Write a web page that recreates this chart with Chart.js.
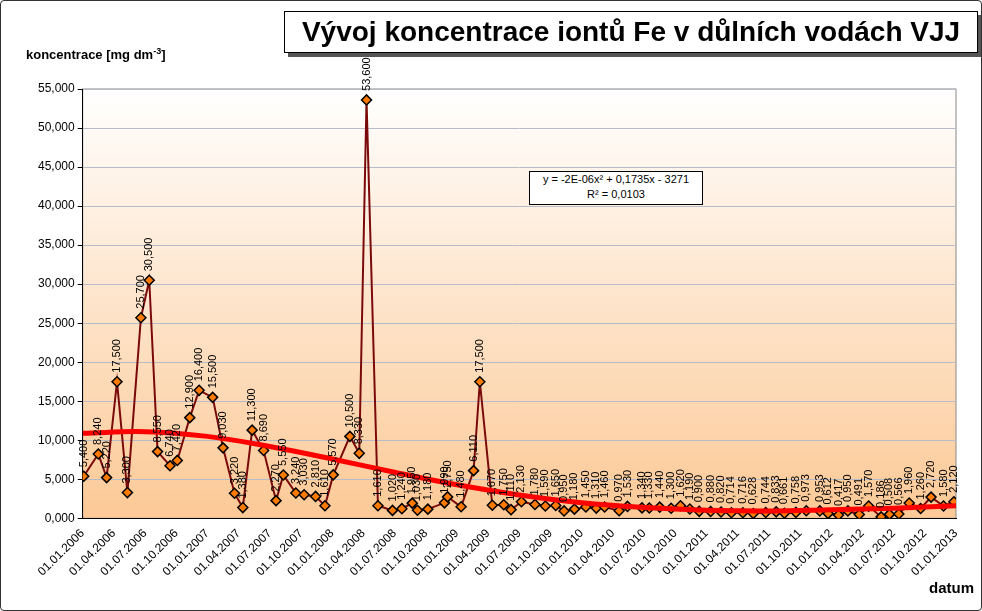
<!DOCTYPE html>
<html><head><meta charset="utf-8">
<script src="https://cdn.jsdelivr.net/npm/chart.js@4/dist/chart.umd.min.js"></script>
<style>
body{margin:0;background:#fff;font-family:Arial,"Liberation Sans",sans-serif}
#wrap{position:relative;width:980px;height:609px;border:1px solid #333;border-radius:4px;overflow:hidden}
#title{position:absolute;left:283px;top:10px;width:692px;height:40px;border:1px solid #000;box-shadow:4px 4px 0 #555;background:#fff;font:bold 28px Arial,"Liberation Sans";text-align:center;line-height:40px;white-space:nowrap}
#ytitle{position:absolute;left:25px;top:45px;font:bold 13px Arial,"Liberation Sans"}
#xtitle{position:absolute;left:928px;top:578px;font:bold 15px Arial,"Liberation Sans"}
#eq{position:absolute;left:528px;top:170px;width:172px;height:32px;border:1px solid #000;background:#fff;font:11px Arial,"Liberation Sans";text-align:center;line-height:15px}
</style></head><body>
<div id="wrap">
<canvas id="c" width="980" height="609"></canvas>
<div id="title">Vývoj koncentrace iontů Fe v důlních vodách VJJ</div>
<div id="ytitle">koncentrace [mg dm<sup style="font-size:9px">-3</sup>]</div>
<div id="eq">y = -2E-06x² + 0,1735x - 3271<br>R² = 0,0103</div>
<div id="xtitle">datum</div>
</div>
<script>
// months since 01.01.2006
const months = [0.1,1.5,2.3,3.3,4.3,5.6,6.4,7.2,8.4,9.1,10.3,11.2,12.5,13.5,14.6,15.4,16.3,17.4,18.6,19.3,20.5,21.3,22.4,23.3,24.1,25.7,26.6,27.3,
  28.4,29.8,30.7,31.7,32.2,33.2,34.8,35.1,36.4,37.6,38.2,39.4,40.5,41.2,42.2,43.5,44.5,45.5,46.3,47.3,48.4,49.4,50.2,51.6,52.4,53.8,54.5,55.5,
  56.6,57.5,58.4,59.3,60.4,61.4,62.4,63.5,64.5,65.7,66.7,67.5,68.6,69.6,70.9,71.7,72.7,73.6,74.7,75.6,76.8,77.6,78.5,79.5,80.6,81.6,82.8,83.8];
const fe = [5.4,8.24,5.22,17.5,3.3,25.7,30.5,8.55,6.74,7.42,12.9,16.4,15.5,9.03,3.22,1.38,11.3,8.69,2.27,5.55,3.24,3.03,2.81,1.61,5.57,10.5,8.33,53.6,
  1.61,1.02,1.24,1.95,1.03,1.18,1.99,2.75,1.48,6.11,17.5,1.67,1.75,1.11,2.13,1.78,1.59,1.65,0.95,1.18,1.45,1.31,1.46,0.97,1.53,1.34,1.33,1.44,
  1.3,1.62,1.19,0.9,0.88,0.82,0.714,0.716,0.628,0.744,0.833,0.661,0.758,0.973,0.953,0.612,0.417,0.95,0.491,1.57,0.186,0.508,0.566,1.96,1.26,2.72,1.58,2.12];
const trendMonths = [0,6,12,18,24,30,36,42,48,54,60,66,72,78,84];
const trendVals = [10.9,11.1,10.5,9.2,7.6,5.9,4.3,3.0,2.0,1.4,1.05,0.95,1.1,1.3,1.6];
const fmt = v => v.toFixed(3).replace('.', ',');
const tickLabel = m => { const y = 2006 + Math.floor(m/12), mo = m%12 + 1; return '01.' + String(mo).padStart(2,'0') + '.' + y; };

const bgPlugin = {
  id:'bg',
  beforeDraw(ch){
    const {ctx, chartArea:a} = ch;
    const g = ctx.createLinearGradient(0,a.top,0,a.bottom);
    g.addColorStop(0,'#ffffff'); g.addColorStop(1,'#fcc996');
    ctx.save(); ctx.fillStyle = g; ctx.fillRect(a.left,a.top,a.right-a.left,a.bottom-a.top);
    ctx.strokeStyle = '#888'; ctx.strokeRect(a.left,a.top,a.right-a.left,a.bottom-a.top); ctx.restore();
  },
  afterDatasetsDraw(ch){
    const {ctx} = ch;
    const meta = ch.getDatasetMeta(1);
    ctx.save(); ctx.font = '11px Arial, "Liberation Sans"'; ctx.fillStyle = '#000';
    ctx.textBaseline = 'middle'; ctx.textAlign = 'left';
    meta.data.forEach((p,i) => {
      ctx.save(); ctx.translate(p.x, p.y - 9); ctx.rotate(-Math.PI/2);
      ctx.fillText(fmt(fe[i]), 0, 0); ctx.restore();
    });
    ctx.restore();
  }
};

new Chart(document.getElementById('c'), {
  type:'scatter',
  data:{datasets:[
    {data: trendMonths.map((m,i)=>({x:m,y:trendVals[i]})), showLine:true, borderColor:'#ff0000', borderWidth:5, pointRadius:0, tension:0.4, order:0},
    {data: months.map((m,i)=>({x:m,y:fe[i]})), showLine:true, borderColor:'#7a0a0a', borderWidth:2, pointStyle:'rectRot', pointRadius:5,
     pointBackgroundColor:'#ff7a00', pointBorderColor:'#000', pointBorderWidth:1.5, order:1}
  ]},
  options:{
    responsive:false, animation:false,
    layout:{padding:{left:34,right:25,top:88,bottom:28}},
    plugins:{legend:{display:false},tooltip:{enabled:false}},
    scales:{
      x:{type:'linear', min:0, max:84, afterBuildTicks:s=>{s.ticks=[];for(let m=0;m<=84;m+=3)s.ticks.push({value:m});},
        grid:{display:false, drawTicks:true, tickLength:5, tickColor:'#000'}, border:{color:'#000'},
        ticks:{maxRotation:45, minRotation:45, color:'#000', font:{size:12,family:'Arial'}, callback:v=>tickLabel(v)}},
      y:{min:0, max:55, ticks:{stepSize:5, color:'#000', font:{size:12,family:'Arial'}, callback:v=>(v*1000).toLocaleString('en-US')+(v===0?',000':'')},
        grid:{color:'#b8bcc8', tickLength:5, tickColor:'#000'}, border:{color:'#000'}}
    }
  },
  plugins:[bgPlugin]
});
</script>
</body></html>
